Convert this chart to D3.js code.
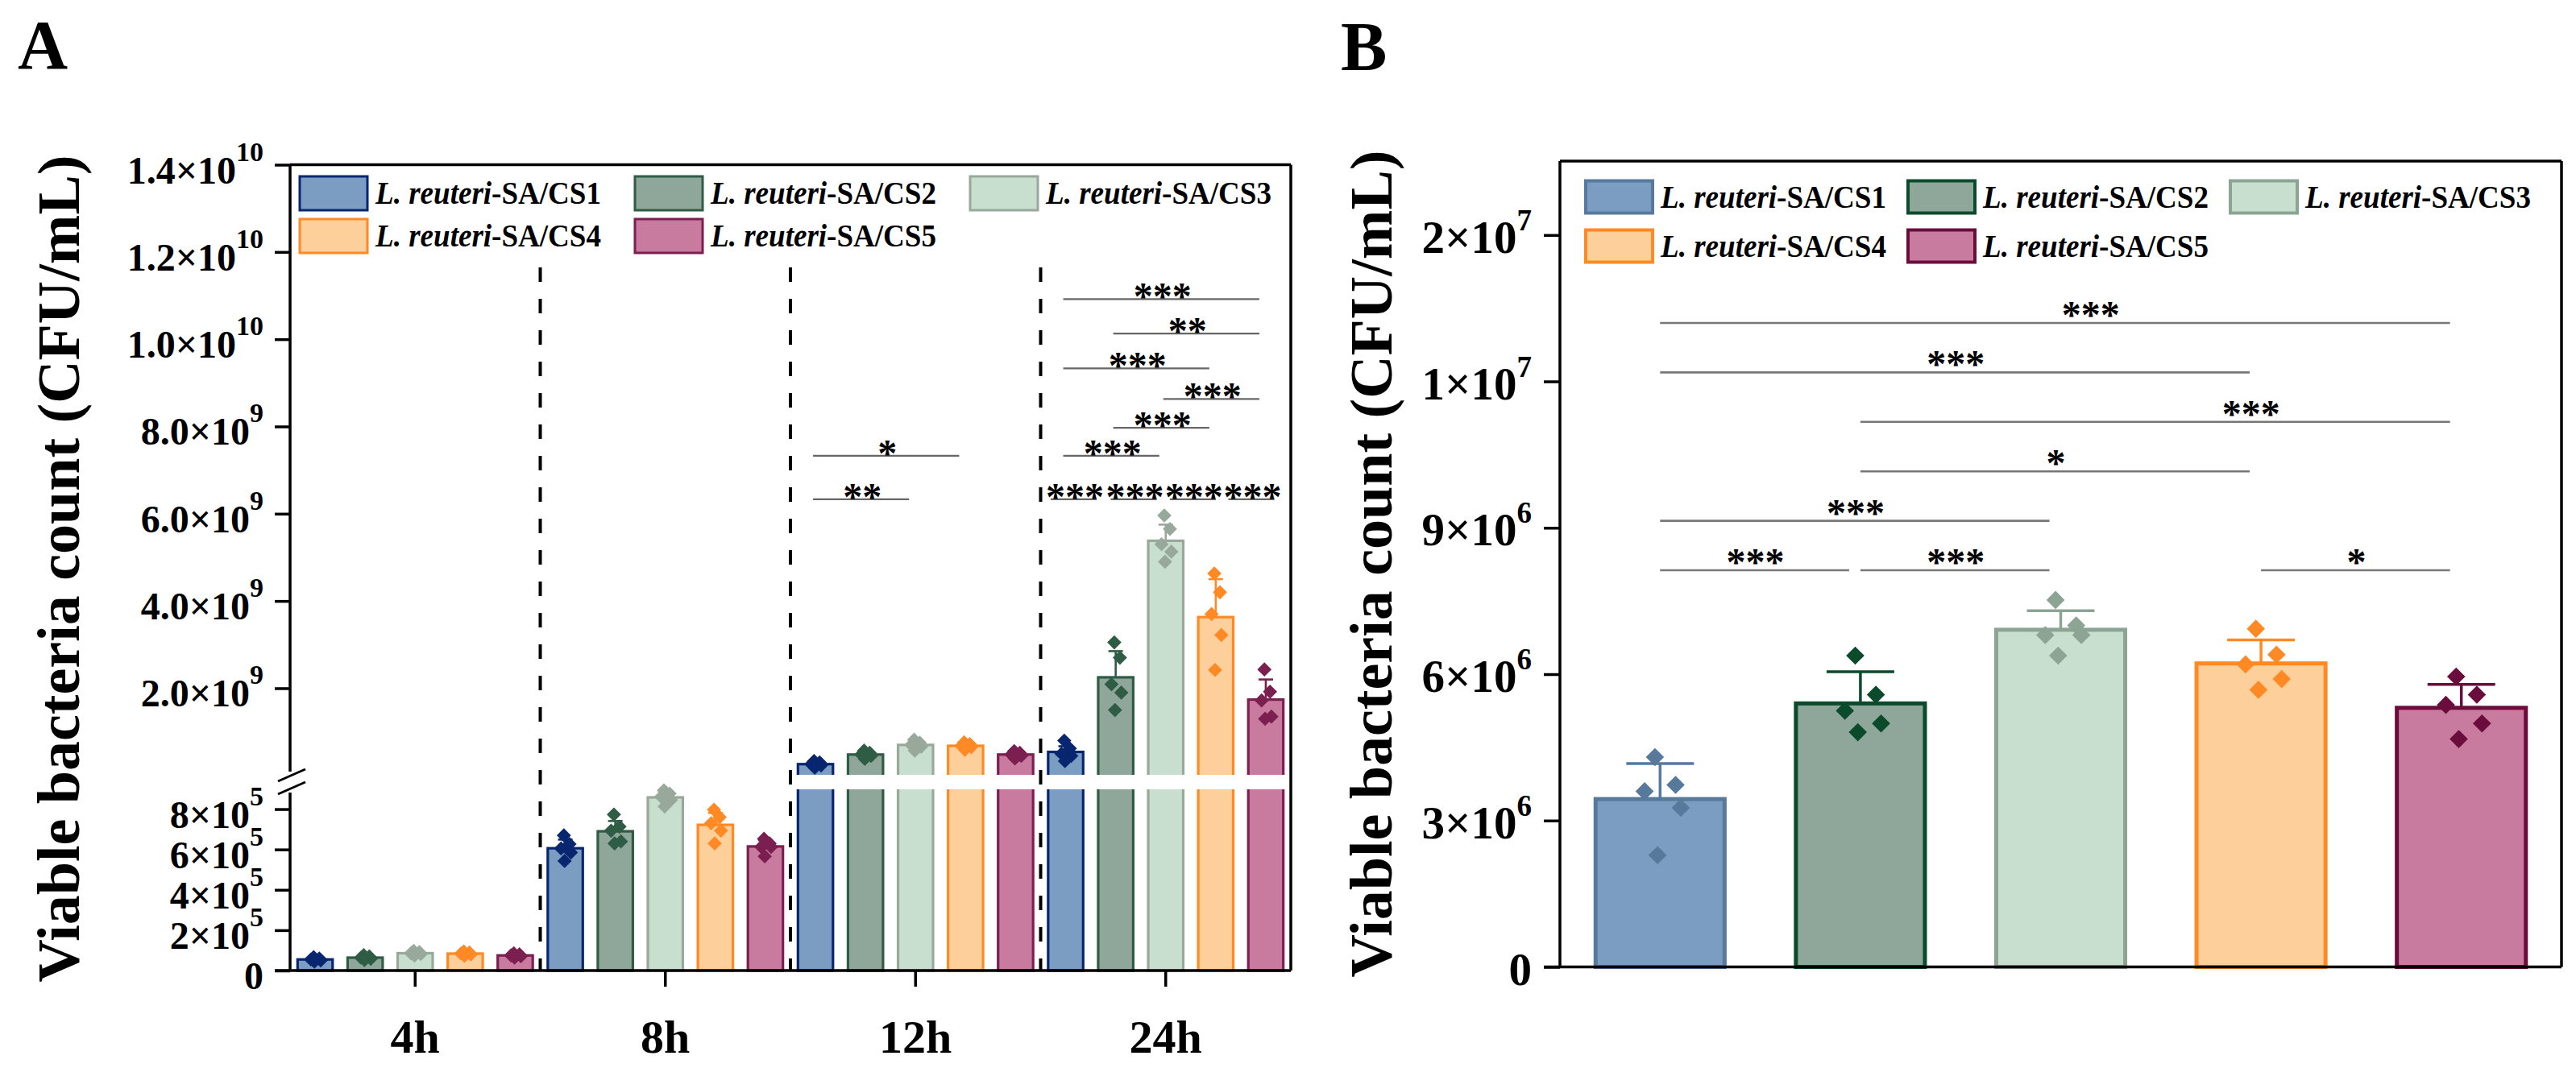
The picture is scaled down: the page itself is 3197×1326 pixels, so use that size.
<!DOCTYPE html>
<html>
<head>
<meta charset="utf-8">
<script src="https://cdn.jsdelivr.net/npm/d3@7"></script>
<style>
  body { margin: 0; background: #fff; }
  text { font-family: "Times New Roman", "Liberation Serif", serif; font-weight: bold; fill: #000; }
</style>
</head>
<body>
<svg id="fig"></svg>
<script>
// ---- data ----
var series = ["CS1", "CS2", "CS3", "CS4", "CS5"];
var hours = ["4h", "8h", "12h", "24h"];

// panel A, means / sd / replicate points per time point
var mean4h = [0.55e5, 0.64e5, 0.86e5, 0.84e5, 0.75e5];
var sd4h = [0.08e5, 0.07e5, 0.07e5, 0.06e5, 0.06e5];
var pts4h = [[0.66e5, 0.60e5, 0.55e5, 0.50e5, 0.44e5], [0.76e5, 0.70e5, 0.64e5, 0.58e5, 0.52e5],
  [0.97e5, 0.91e5, 0.86e5, 0.82e5, 0.74e5], [0.94e5, 0.89e5, 0.84e5, 0.80e5, 0.73e5], [0.85e5, 0.80e5, 0.75e5, 0.71e5, 0.64e5]];

var mean8h = [6.06e5, 6.90e5, 8.58e5, 7.22e5, 6.15e5];
var sd8h = [0.43e5, 0.51e5, 0.27e5, 0.59e5, 0.31e5];
var pts8h = [[6.70e5, 6.27e5, 6.05e5, 5.85e5, 5.43e5], [7.73e5, 7.13e5, 6.93e5, 6.40e5, 6.30e5],
  [8.93e5, 8.77e5, 8.61e5, 8.45e5, 8.13e5], [7.97e5, 7.60e5, 7.30e5, 6.93e5, 6.30e5], [6.53e5, 6.30e5, 6.13e5, 6.13e5, 5.66e5]];

var mean12h = [0.26e9, 0.48e9, 0.70e9, 0.68e9, 0.48e9];
var sd12h = [0.05e9, 0.06e9, 0.08e9, 0.05e9, 0.05e9];
var pts12h = [[0.33e9, 0.30e9, 0.26e9, 0.23e9, 0.18e9], [0.57e9, 0.52e9, 0.48e9, 0.45e9, 0.38e9],
  [0.82e9, 0.75e9, 0.70e9, 0.66e9, 0.57e9], [0.76e9, 0.72e9, 0.68e9, 0.65e9, 0.59e9], [0.56e9, 0.52e9, 0.48e9, 0.45e9, 0.39e9]];

var mean24h = [0.54e9, 2.25e9, 5.38e9, 3.63e9, 1.74e9];
var sd24h = [0.13e9, 0.60e9, 0.37e9, 0.87e9, 0.46e9];
var pts24h = [[0.80e9, 0.62e9, 0.50e9, 0.45e9, 0.33e9], [3.05e9, 2.70e9, 2.09e9, 1.90e9, 1.50e9],
  [5.96e9, 5.65e9, 5.30e9, 5.13e9, 4.90e9], [4.63e9, 4.20e9, 3.70e9, 3.22e9, 2.42e9], [2.43e9, 1.92e9, 1.72e9, 1.35e9, 1.30e9]];

// panel A axis ticks (broken axis)
var ticksAUpper = [2e9, 4e9, 6e9, 8e9, 1e10, 1.2e10, 1.4e10];
var labelsAUpper = ["2.0×10^9", "4.0×10^9", "6.0×10^9", "8.0×10^9", "1.0×10^10", "1.2×10^10", "1.4×10^10"];
var ticksALower = [0, 2e5, 4e5, 6e5, 8e5];
var labelsALower = ["0", "2×10^5", "4×10^5", "6×10^5", "8×10^5"];

// significance, panel A: [time, bar i, bar j, label, height, nudge in bar steps]
var sigA = [
  ["12h", 0, 2, "**", 6.33e9, 0], ["12h", 0, 3, "*", 7.33e9, 0],
  ["24h", 0, 1, "***", 6.33e9, -0.25], ["24h", 1, 2, "***", 6.33e9, -0.05],
  ["24h", 2, 3, "***", 6.33e9, 0.13], ["24h", 3, 4, "***", 6.33e9, 0.3],
  ["24h", 0, 2, "***", 7.33e9, 0], ["24h", 1, 3, "***", 7.97e9, 0], ["24h", 2, 4, "***", 8.63e9, 0],
  ["24h", 0, 3, "***", 9.33e9, 0], ["24h", 1, 4, "**", 10.13e9, 0], ["24h", 0, 4, "***", 10.92e9, 0]
];

// panel B
var meanB = [3.44e6, 5.40e6, 6.91e6, 6.22e6, 5.31e6];
var sdB = [0.73e6, 0.65e6, 0.39e6, 0.48e6, 0.48e6];
var ptsB = [[4.30e6, 3.73e6, 3.60e6, 3.26e6, 2.29e6], [6.38e6, 5.58e6, 5.25e6, 4.99e6, 4.81e6],
  [7.52e6, 7.00e6, 6.80e6, 6.80e6, 6.38e6], [6.93e6, 6.40e6, 6.20e6, 5.90e6, 5.68e6], [5.95e6, 5.58e6, 5.37e6, 4.99e6, 4.67e6]];
var ticksB = [0, 3e6, 6e6, 9e6, 1e7, 2e7];
var labelsB = ["0", "3×10^6", "6×10^6", "9×10^6", "1×10^7", "2×10^7"];

// significance, panel B: [bar i, bar j, label, row, label position (bar index) or null]
var sigB = [
  [0, 1, "***", 0, null], [1, 2, "***", 0, null], [3, 4, "*", 0, null],
  [0, 2, "***", 1, null], [1, 3, "*", 2, null], [1, 4, "***", 3, 2.95],
  [0, 3, "***", 4, null], [0, 4, "***", 5, 2.15]
];

// ---- styles ----
var fills = ["#7b9dc1", "#8fa79a", "#c8dfcf", "#fdcf9b", "#c97b9f"];
var strokesA = ["#08266f", "#2f5c45", "#98a99c", "#ff8a25", "#7a1f50"];
var strokesB = ["#56799c", "#0c4a2c", "#8ca493", "#ff8a25", "#6a0d3c"];
var jitter = [-0.04, 0.12, -0.12, 0.16, -0.02];

var W = 3197, H = 1326;
var svg = d3.select("#fig").attr("width", W).attr("height", H);

function expText(sel, str, size, supSize, supRise) {
  var parts = str.split("^");
  sel.append("tspan").style("font-size", size + "px").text(parts[0]);
  if (parts.length > 1) {
    sel.append("tspan").attr("dy", -supRise).style("font-size", supSize + "px").text(parts[1]);
  }
}

function diamond(g, x, y, side, color) {
  g.append("rect")
    .attr("x", -side / 2).attr("y", -side / 2)
    .attr("width", side).attr("height", side)
    .attr("fill", color)
    .attr("transform", "translate(" + x + "," + y + ") rotate(45)");
}

function stars(g, x, y, label) {
  g.append("text").attr("x", x).attr("y", y)
    .attr("text-anchor", "middle").style("font-size", "48px").text(label);
}

function legend(g, x0, y0, colStep, rowStep, bw, bh, sw, strokes) {
  series.forEach(function(s, i) {
    var col = i < 3 ? i : i - 3, row = i < 3 ? 0 : 1;
    var x = x0 + col * colStep, y = y0 + row * rowStep;
    g.append("rect").attr("x", x).attr("y", y).attr("width", bw).attr("height", bh)
      .attr("fill", fills[i]).attr("stroke", strokes[i]).attr("stroke-width", sw);
    var t = g.append("text").attr("x", x + bw + 10).attr("y", y + bh / 2 + 13)
      .attr("textLength", 280).attr("lengthAdjust", "spacingAndGlyphs").style("font-size", "41px");
    t.append("tspan").style("font-style", "italic").text("L. reuteri");
    t.append("tspan").text("-SA/" + s);
  });
}

// =================== panel A ===================
function drawA() {
  var gA = svg.append("g");
  var left = 360, right = 1602, topY = 204.5, base = 1205;
  var upBottom = 962, loTop = 980;

  var xA = d3.scaleBand().domain(hours).range([left, right]);
  var xInner = d3.scaleBand().domain(series).range([0, xA.bandwidth()]).paddingInner(0.3).paddingOuter(0.15);
  var yUp = d3.scaleLinear().domain([0, 1.4e10]).range([962.8, topY]);
  var yLo = d3.scaleLinear().domain([0, 9e5]).range([base, 979.5]);

  var meansA = { "4h": mean4h, "8h": mean8h, "12h": mean12h, "24h": mean24h };
  var sdsA = { "4h": sd4h, "8h": sd8h, "12h": sd12h, "24h": sd24h };
  var ptsA = { "4h": pts4h, "8h": pts8h, "12h": pts12h, "24h": pts24h };

  var defs = svg.append("defs");
  defs.append("clipPath").attr("id", "clipUp").append("rect")
    .attr("x", left).attr("y", topY).attr("width", right - left).attr("height", upBottom - topY);
  defs.append("clipPath").attr("id", "clipLo").append("rect")
    .attr("x", left).attr("y", loTop).attr("width", right - left).attr("height", base - loTop + 6);

  // dashed separators
  gA.selectAll(".sep").data(hours.slice(1)).enter().append("line")
    .attr("x1", function(d) { return xA(d); }).attr("x2", function(d) { return xA(d); })
    .attr("y1", 332).attr("y2", base)
    .attr("stroke", "#000").attr("stroke-width", 4).attr("stroke-dasharray", "18,21");

  // bars, error bars, points
  hours.forEach(function(h) {
    var m = meansA[h], sd = sdsA[h], pts = ptsA[h];
    var big = m[2] > 9e5;
    var ys = big ? yUp : yLo;
    series.forEach(function(s, i) {
      var x = xA(h) + xInner(s), bw = xInner.bandwidth(), cx = x + bw / 2;
      if (big) {
        gA.append("rect").attr("clip-path", "url(#clipUp)")
          .attr("x", x).attr("y", yUp(m[i])).attr("width", bw).attr("height", upBottom + 12 - yUp(m[i]))
          .attr("fill", fills[i]).attr("stroke", strokesA[i]).attr("stroke-width", 3.2);
        gA.append("rect").attr("clip-path", "url(#clipLo)")
          .attr("x", x).attr("y", loTop - 12).attr("width", bw).attr("height", base - loTop + 12)
          .attr("fill", fills[i]).attr("stroke", strokesA[i]).attr("stroke-width", 3.2);
      } else {
        gA.append("rect")
          .attr("x", x).attr("y", yLo(m[i])).attr("width", bw).attr("height", base - yLo(m[i]))
          .attr("fill", fills[i]).attr("stroke", strokesA[i]).attr("stroke-width", 3.2);
      }
      var yt = ys(m[i] + sd[i]);
      gA.append("line").attr("x1", cx).attr("x2", cx).attr("y1", ys(m[i])).attr("y2", yt)
        .attr("stroke", strokesA[i]).attr("stroke-width", 2.6);
      gA.append("line").attr("x1", cx - 9).attr("x2", cx + 9).attr("y1", yt).attr("y2", yt)
        .attr("stroke", strokesA[i]).attr("stroke-width", 2.6);
      pts[i].forEach(function(v, k) {
        diamond(gA, cx + jitter[k] * bw, ys(v), 12.5, strokesA[i]);
      });
    });
  });

  // significance
  sigA.forEach(function(d) {
    var n = d[5] * xInner.step();
    var c1 = xA(d[0]) + xInner(series[d[1]]) + xInner.bandwidth() / 2 + n;
    var c2 = xA(d[0]) + xInner(series[d[2]]) + xInner.bandwidth() / 2 + n;
    var y = yUp(d[4]);
    gA.append("line").attr("x1", c1 - 3).attr("x2", c2 - 8).attr("y1", y).attr("y2", y)
      .attr("stroke", "#666").attr("stroke-width", 2.2);
    stars(gA, (c1 + c2) / 2 - 4, y + 13, d[3]);
  });

  // frame and broken y axis
  var axA = gA.append("g").attr("stroke", "#000").attr("stroke-width", 3.5);
  axA.append("line").attr("x1", left).attr("x2", right).attr("y1", topY).attr("y2", topY);
  axA.append("line").attr("x1", right).attr("x2", right).attr("y1", topY).attr("y2", base);
  axA.append("line").attr("x1", left - 19).attr("x2", right).attr("y1", base).attr("y2", base);
  axA.append("line").attr("x1", left).attr("x2", left).attr("y1", topY).attr("y2", upBottom - 4);
  axA.append("line").attr("x1", left).attr("x2", left).attr("y1", loTop + 4).attr("y2", base);
  axA.append("line").attr("x1", left - 15).attr("x2", left + 19).attr("y1", upBottom + 8).attr("y2", upBottom - 7).attr("stroke-width", 3);
  axA.append("line").attr("x1", left - 15).attr("x2", left + 19).attr("y1", loTop + 6).attr("y2", loTop - 9).attr("stroke-width", 3);

  var gUp = gA.append("g").attr("transform", "translate(" + left + ",0)")
    .call(d3.axisLeft(yUp).tickValues(ticksAUpper).tickSize(19).tickFormat(""));
  var gLo = gA.append("g").attr("transform", "translate(" + left + ",0)")
    .call(d3.axisLeft(yLo).tickValues(ticksALower).tickSize(19).tickFormat(""));
  [gUp, gLo].forEach(function(g) {
    g.select(".domain").remove();
    g.selectAll(".tick line").attr("stroke", "#000").attr("stroke-width", 3.5);
  });
  ticksAUpper.forEach(function(v, i) {
    var t = gA.append("text").attr("x", 327).attr("y", yUp(v) + 23).attr("text-anchor", "end");
    expText(t, labelsAUpper[i], 48, 34, 28);
  });
  ticksALower.forEach(function(v, i) {
    var t = gA.append("text").attr("x", 327).attr("y", yLo(v) + 23).attr("text-anchor", "end");
    expText(t, labelsALower[i], 48, 34, 28);
  });

  var gx = gA.append("g").attr("transform", "translate(0," + base + ")")
    .call(d3.axisBottom(xA).tickSize(20).tickFormat(""));
  gx.select(".domain").remove();
  gx.selectAll(".tick line").attr("stroke", "#000").attr("stroke-width", 3.5);
  gA.selectAll(".xl").data(hours).enter().append("text")
    .attr("x", function(d) { return xA(d) + xA.bandwidth() / 2; }).attr("y", 1307)
    .attr("text-anchor", "middle").style("font-size", "58px").text(function(d) { return d; });

  gA.append("text").attr("transform", "translate(98,706) rotate(-90)").attr("text-anchor", "middle")
    .style("font-size", "74px").text("Viable bacteria count (CFU/mL)");
  gA.append("text").attr("x", 22).attr("y", 85).style("font-size", "86px").text("A");

  legend(gA, 372, 219, 416, 53, 84, 42, 3, strokesA);
}

// =================== panel B ===================
function drawB() {
  var gB = svg.append("g");
  var bl = 1936, br = 3179, bt = 200, bb = 1200.5;
  var xB = d3.scaleBand().domain(series).range([bl, br]).paddingInner(0.356).paddingOuter(0.178);
  var yB = d3.scaleLinear().domain(ticksB).range(ticksB.map(function(d, i) { return bb - i * 181.74; }));

  series.forEach(function(s, i) {
    var x = xB(s), bw = xB.bandwidth(), cx = x + bw / 2;
    gB.append("rect").attr("x", x).attr("y", yB(meanB[i])).attr("width", bw).attr("height", bb - yB(meanB[i]))
      .attr("fill", fills[i]).attr("stroke", strokesB[i]).attr("stroke-width", 5);
    var yt = yB(meanB[i] + sdB[i]);
    gB.append("line").attr("x1", cx).attr("x2", cx).attr("y1", yB(meanB[i])).attr("y2", yt)
      .attr("stroke", strokesB[i]).attr("stroke-width", 3.5);
    gB.append("line").attr("x1", cx - 42).attr("x2", cx + 42).attr("y1", yt).attr("y2", yt)
      .attr("stroke", strokesB[i]).attr("stroke-width", 3.5);
    ptsB[i].forEach(function(v, k) {
      diamond(gB, cx + jitter[k] * bw, yB(v), 16, strokesB[i]);
    });
  });

  sigB.forEach(function(d) {
    var c1 = xB(series[d[0]]) + xB.bandwidth() / 2;
    var c2 = xB(series[d[1]]) + xB.bandwidth() / 2;
    var y = 708 - d[3] * 61.4;
    var lx = d[4] == null ? (c1 + c2 - 12) / 2 : xB(series[0]) + xB.bandwidth() / 2 + d[4] * xB.step();
    gB.append("line").attr("x1", c1).attr("x2", c2 - 14).attr("y1", y).attr("y2", y)
      .attr("stroke", "#777").attr("stroke-width", 2.6);
    stars(gB, lx, y + 6, d[2]);
  });

  var axB = gB.append("g").attr("stroke", "#000").attr("stroke-width", 3.5).attr("fill", "none");
  axB.append("line").attr("x1", bl).attr("x2", br).attr("y1", bt).attr("y2", bt);
  axB.append("line").attr("x1", br).attr("x2", br).attr("y1", bt).attr("y2", bb);
  axB.append("line").attr("x1", bl - 20).attr("x2", br).attr("y1", bb).attr("y2", bb);
  axB.append("line").attr("x1", bl).attr("x2", bl).attr("y1", bt).attr("y2", bb);

  var gyB = gB.append("g").attr("transform", "translate(" + bl + ",0)")
    .call(d3.axisLeft(yB).tickValues(ticksB).tickSize(20).tickFormat(""));
  gyB.select(".domain").remove();
  gyB.selectAll(".tick line").attr("stroke", "#000").attr("stroke-width", 3.5);
  ticksB.forEach(function(v, i) {
    var t = gB.append("text").attr("x", 1901).attr("y", yB(v) + 22).attr("text-anchor", "end");
    expText(t, labelsB[i], 57, 37, 28);
  });

  gB.append("text").attr("transform", "translate(1727,700) rotate(-90)").attr("text-anchor", "middle")
    .style("font-size", "74px").text("Viable bacteria count (CFU/mL)");
  gB.append("text").attr("x", 1664).attr("y", 87).style("font-size", "86px").text("B");

  legend(gB, 1968, 224.5, 400, 61, 83, 40, 4, strokesB);
}

drawA();
drawB();
</script>
</body>
</html>
